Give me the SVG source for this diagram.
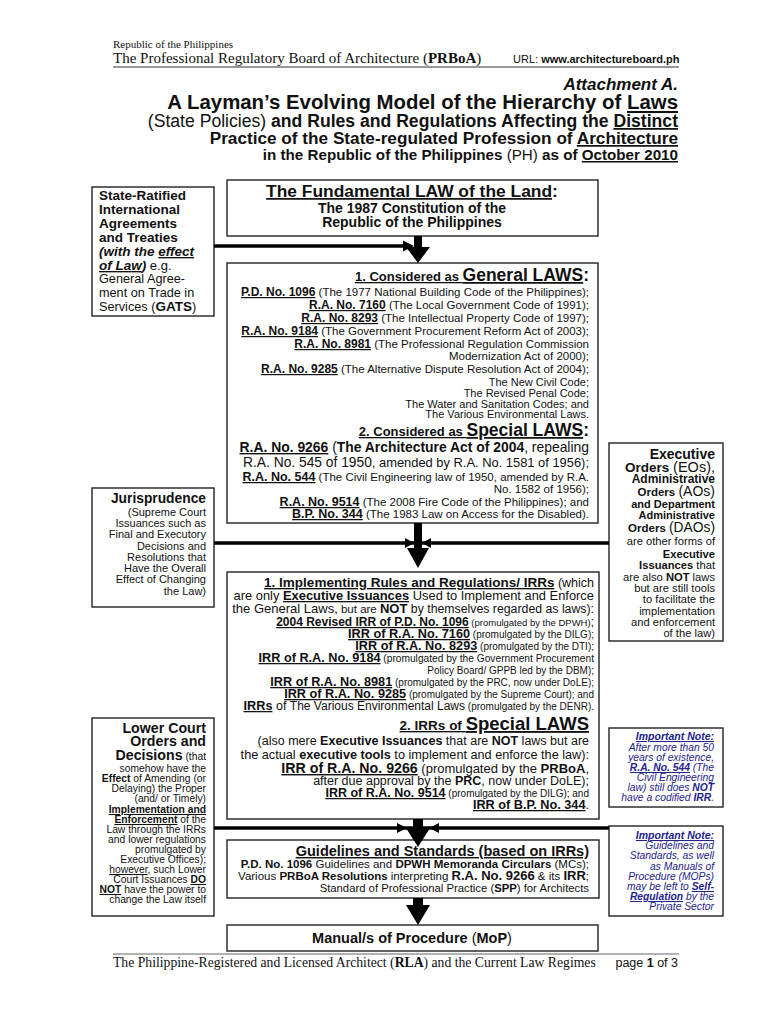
<svg xmlns="http://www.w3.org/2000/svg" width="768" height="1024" viewBox="0 0 768 1024">
<style>
text{font-family:"Liberation Sans",Arial,sans-serif;fill:#111}
.s{font-family:"Liberation Serif","Times New Roman",serif}
.b{font-weight:bold}
.n{font-weight:normal}
.i{font-style:italic}
.u{text-decoration:underline}
.e{text-anchor:end}
.m{text-anchor:middle}
.box{fill:#fff;stroke:#222;stroke-width:1.4}
.nt{fill:#23238c;font-style:italic}
.cl{stroke:#000;stroke-width:3.5}
.ah{fill:#000}
</style>
<rect width="768" height="1024" fill="#fff"/>

<g id="header">
<text class="s" x="113" y="48" font-size="11">Republic of the Philippines</text>
<text class="s" x="113" y="63" font-size="15">The Professional Regulatory Board of Architecture (<tspan class="b">PRBoA</tspan>)</text>
<text x="513" y="63" font-size="11">URL: <tspan class="b">www.architectureboard.ph</tspan></text>
<line x1="113" y1="67" x2="679" y2="67" stroke="#333" stroke-width="1"/>
<text class="b i e" x="678" y="90" font-size="17">Attachment A.</text>
<text class="b e" x="678" y="109" font-size="20.4">A Layman’s Evolving Model of the Hierarchy of <tspan class="u">Laws</tspan></text>
<text class="b e" x="678" y="127" font-size="17.6"><tspan class="n">(State Policies)</tspan> and Rules and Regulations Affecting the <tspan class="u">Distinct</tspan></text>
<text class="b e" x="678" y="144" font-size="17.2">Practice of the State-regulated Profession of <tspan class="u">Architecture</tspan></text>
<text class="b e" x="678" y="160" font-size="15.2">in the Republic of the Philippines <tspan class="n">(PH)</tspan> as of <tspan class="u">October 2010</tspan></text>
</g>

<g id="treaties">
<rect class="box" x="92" y="187" width="122" height="129"/>
<text class="b" x="99" y="200" font-size="13.5">State-Ratified</text>
<text class="b" x="99" y="214" font-size="13.5">International</text>
<text class="b" x="99" y="228" font-size="13.5">Agreements</text>
<text class="b" x="99" y="242" font-size="13.5">and Treaties</text>
<text class="b i" x="99" y="256" font-size="13.5">(with the <tspan class="u">effect</tspan></text>
<text x="99" y="270" font-size="13"><tspan class="b i u" font-size="13.5">of Law</tspan><tspan class="b i" font-size="13.5">)</tspan> e.g.</text>
<text x="99" y="283" font-size="12.7">General Agree-</text>
<text x="99" y="297" font-size="12.7">ment on Trade in</text>
<text x="99" y="311" font-size="12.7">Services (<tspan class="b" font-size="13.5">GATS</tspan>)</text>
</g>

<g id="fundamental-law">
<rect class="box" x="227" y="180" width="371" height="56"/>
<text class="b m" x="412" y="197" font-size="17.4"><tspan class="u">The Fundamental LAW of the Land</tspan>:</text>
<text class="b m" x="412" y="213" font-size="14">The 1987 Constitution of the</text>
<text class="b m" x="412" y="227" font-size="14">Republic of the Philippines</text>
</g>

<g id="general-laws">
<rect class="box" x="227" y="263" width="371" height="260"/>
<text class="b e" x="589" y="281"><tspan class="u" font-size="13">1. Considered as </tspan><tspan class="u" font-size="17.5">General LAWS</tspan><tspan font-size="17.5">:</tspan></text>
<text class="e" x="589" y="296"><tspan class="b u" font-size="12">P.D. No. 1096</tspan><tspan font-size="11.5"> (The 1977 National Building Code of the Philippines);</tspan></text>
<text class="e" x="589" y="309"><tspan class="b u" font-size="12">R.A. No. 7160</tspan><tspan font-size="11.5"> (The Local Government Code of 1991);</tspan></text>
<text class="e" x="589" y="322"><tspan class="b u" font-size="12">R.A. No. 8293</tspan><tspan font-size="11.5"> (The Intellectual Property Code of 1997);</tspan></text>
<text class="e" x="589" y="335"><tspan class="b u" font-size="12">R.A. No. 9184</tspan><tspan font-size="11.5"> (The Government Procurement Reform Act of 2003);</tspan></text>
<text class="e" x="589" y="348"><tspan class="b u" font-size="12">R.A. No. 8981</tspan><tspan font-size="11.5"> (The Professional Regulation Commission</tspan></text>
<text class="e" x="589" y="360" font-size="11.5">Modernization Act of 2000);</text>
<text class="e" x="589" y="373"><tspan class="b u" font-size="12">R.A. No. 9285</tspan><tspan font-size="11.5"> (The Alternative Dispute Resolution Act of 2004);</tspan></text>
<text class="e" x="589" y="386" font-size="11">The New Civil Code;</text>
<text class="e" x="589" y="397" font-size="11">The Revised Penal Code;</text>
<text class="e" x="589" y="408" font-size="11">The Water and Sanitation Codes; and</text>
<text class="e" x="589" y="418" font-size="11">The Various Environmental Laws.</text>
<text class="b e" x="589" y="436"><tspan class="u" font-size="13">2. Considered as </tspan><tspan class="u" font-size="17.5">Special LAWS</tspan><tspan font-size="17.5">:</tspan></text>
<text class="e" x="589" y="452" font-size="13.9"><tspan class="b u">R.A. No. 9266</tspan> (<tspan class="b">The Architecture Act of 2004</tspan>, repealing</text>
<text class="e" x="589" y="467"><tspan font-size="13.8">R.A. No. 545 of 1950</tspan><tspan font-size="12.9">, amended by R.A. No. 1581 of 1956);</tspan></text>
<text class="e" x="589" y="481"><tspan class="b u" font-size="12.5">R.A. No. 544</tspan><tspan font-size="11.5"> (The Civil Engineering law of 1950, amended by R.A.</tspan></text>
<text class="e" x="589" y="493" font-size="11.5">No. 1582 of 1956);</text>
<text class="e" x="589" y="506"><tspan class="b u" font-size="12.5">R.A. No. 9514</tspan><tspan font-size="11.5"> (The 2008 Fire Code of the Philippines); and</tspan></text>
<text class="e" x="589" y="518"><tspan class="b u" font-size="12.5">B.P. No. 344</tspan><tspan font-size="11.5"> (The 1983 Law on Access for the Disabled).</tspan></text>
</g>

<g id="jurisprudence">
<rect class="box" x="92" y="488" width="122" height="119"/>
<text class="b e" x="206" y="503" font-size="13.8">Jurisprudence</text>
<text class="e" x="206" y="516" font-size="11">(Supreme Court</text>
<text class="e" x="206" y="527" font-size="11">Issuances such as</text>
<text class="e" x="206" y="538" font-size="11">Final and Executory</text>
<text class="e" x="206" y="550" font-size="11">Decisions and</text>
<text class="e" x="206" y="561" font-size="11">Resolutions that</text>
<text class="e" x="206" y="572" font-size="11">Have the Overall</text>
<text class="e" x="206" y="583" font-size="11">Effect of Changing</text>
<text class="e" x="206" y="595" font-size="11">the Law)</text>
</g>

<g id="executive-orders">
<rect class="box" x="609" y="443" width="114" height="198"/>
<text class="b e" x="715" y="459" font-size="14">Executive</text>
<text class="e" x="715" y="472"><tspan class="b" font-size="13.5">Orders </tspan><tspan font-size="14.5">(EOs),</tspan></text>
<text class="b e" x="715" y="483" font-size="12">Administrative</text>
<text class="e" x="715" y="496"><tspan class="b" font-size="11.5">Orders </tspan><tspan font-size="14">(AOs)</tspan></text>
<text class="b e" x="715" y="508" font-size="11">and Department</text>
<text class="b e" x="715" y="519" font-size="11">Administrative</text>
<text class="e" x="715" y="532"><tspan class="b" font-size="11.5">Orders </tspan><tspan font-size="13.8">(DAOs)</tspan></text>
<text class="e" x="715" y="545" font-size="11.2">are other forms of</text>
<text class="b e" x="715" y="558" font-size="11.2">Executive</text>
<text class="e" x="715" y="569" font-size="11.2"><tspan class="b">Issuances</tspan> that</text>
<text class="e" x="715" y="581" font-size="11.2">are also <tspan class="b">NOT</tspan> laws</text>
<text class="e" x="715" y="592" font-size="11.2">but are still tools</text>
<text class="e" x="715" y="603" font-size="11.2">to facilitate the</text>
<text class="e" x="715" y="615" font-size="11.2">implementation</text>
<text class="e" x="715" y="626" font-size="11.2">and enforcement</text>
<text class="e" x="715" y="637" font-size="11.2">of the law)</text>
</g>

<g id="irr">
<rect class="box" x="227" y="572" width="372" height="247"/>
<text class="e" x="594" y="587"><tspan class="b u" font-size="13.5">1. Implementing Rules and Regulations/ IRRs</tspan><tspan font-size="12.5"> (which</tspan></text>
<text class="e" x="594" y="600" font-size="12.9">are only <tspan class="b u">Executive Issuances</tspan> Used to Implement and Enforce</text>
<text class="e" x="594" y="613"><tspan font-size="13">the General Laws,</tspan><tspan font-size="11.5"> but are </tspan><tspan class="b" font-size="13">NOT</tspan><tspan font-size="12.3"> by themselves regarded as laws):</tspan></text>
<text class="e" x="594" y="626"><tspan class="b u" font-size="12">2004 Revised IRR of P.D. No. 1096</tspan><tspan font-size="9.5"> (promulgated by the DPWH)</tspan><tspan font-size="12">;</tspan></text>
<text class="e" x="594" y="638"><tspan class="b u" font-size="12.7">IRR of R.A. No. 7160</tspan><tspan font-size="10"> (promulgated by the DILG);</tspan></text>
<text class="e" x="594" y="650"><tspan class="b u" font-size="12.7">IRR of R.A. No. 8293</tspan><tspan font-size="10"> (promulgated by the DTI);</tspan></text>
<text class="e" x="594" y="662"><tspan class="b u" font-size="12.7">IRR of R.A. No. 9184</tspan><tspan font-size="10.2"> (promulgated by the Government Procurement</tspan></text>
<text class="e" x="594" y="674" font-size="10">Policy Board/ GPPB led by the DBM);</text>
<text class="e" x="594" y="686"><tspan class="b u" font-size="12.7">IRR of R.A. No. 8981</tspan><tspan font-size="10"> (promulgated by the PRC, now under DoLE);</tspan></text>
<text class="e" x="594" y="698"><tspan class="b u" font-size="12.7">IRR of R.A. No. 9285</tspan><tspan font-size="10"> (promulgated by the Supreme Court); and</tspan></text>
<text class="e" x="594" y="710"><tspan class="b u" font-size="12.7">IRRs</tspan><tspan font-size="12.5"> of </tspan><tspan font-size="12">The Various Environmental Laws</tspan><tspan font-size="10"> (promulgated by the DENR).</tspan></text>
<text class="b e" x="589" y="730"><tspan class="u" font-size="13.5">2. IRRs of </tspan><tspan class="u" font-size="18.5">Special LAWS</tspan></text>
<text class="e" x="589" y="745" font-size="12.5">(also mere <tspan class="b">Executive Issuances</tspan> that are <tspan class="b">NOT</tspan> laws but are</text>
<text class="e" x="589" y="759" font-size="12.7">the actual <tspan class="b">executive tools</tspan> to implement and enforce the law):</text>
<text class="e" x="589" y="773"><tspan class="b u" font-size="14.2">IRR of R.A. No. 9266</tspan><tspan font-size="13"> (promulgated by the </tspan><tspan class="b" font-size="13">PRBoA</tspan><tspan font-size="13">,</tspan></text>
<text class="e" x="589" y="785" font-size="12.5">after due approval by the <tspan class="b">PRC</tspan>, now under DoLE);</text>
<text class="e" x="589" y="797"><tspan class="b u" font-size="12.5">IRR of R.A. No. 9514</tspan><tspan font-size="10"> (promulgated by the DILG); and</tspan></text>
<text class="e" x="589" y="809" font-size="12.7"><tspan class="b u">IRR of B.P. No. 344</tspan>.</text>
</g>

<g id="lower-court">
<rect class="box" x="92" y="718" width="122" height="198"/>
<text class="b e" x="206" y="733" font-size="14.2">Lower Court</text>
<text class="b e" x="206" y="746" font-size="14.2">Orders and</text>
<text class="e" x="206" y="760"><tspan class="b" font-size="14.2">Decisions</tspan><tspan font-size="10.3"> (that</tspan></text>
<text class="e" x="206" y="772" font-size="10.3">somehow have the</text>
<text class="e" x="206" y="782" font-size="10.3"><tspan class="b">Effect</tspan> of Amending (or</text>
<text class="e" x="206" y="792" font-size="10.3">Delaying) the Proper</text>
<text class="e" x="206" y="802" font-size="10.3">(and/ or Timely)</text>
<text class="b u e" x="206" y="813" font-size="10.3">Implementation and</text>
<text class="e" x="206" y="823" font-size="10.3"><tspan class="b u">Enforcement</tspan> of the</text>
<text class="e" x="206" y="833" font-size="10.3">Law through the IRRs</text>
<text class="e" x="206" y="843" font-size="10.3">and lower regulations</text>
<text class="e" x="206" y="853" font-size="10.3">promulgated by</text>
<text class="e" x="206" y="863" font-size="10.3">Executive Offices);</text>
<text class="e" x="206" y="873" font-size="10.3"><tspan class="u">however</tspan>, such Lower</text>
<text class="e" x="206" y="883" font-size="10.3">Court Issuances <tspan class="b u">DO</tspan></text>
<text class="e" x="206" y="893" font-size="10.3"><tspan class="b u">NOT</tspan> have the power to</text>
<text class="e" x="206" y="903" font-size="10.3">change the Law itself</text>
</g>

<g id="note-ra544">
<rect class="box" x="609" y="728" width="114" height="79"/>
<text class="nt b u e" x="714" y="740" font-size="10.5">Important Note:</text>
<text class="nt e" x="714" y="751" font-size="10.3">After more than 50</text>
<text class="nt e" x="714" y="761" font-size="10.3">years of existence,</text>
<text class="nt e" x="714" y="771" font-size="10.3"><tspan class="b u">R.A. No. 544</tspan> (The</text>
<text class="nt e" x="714" y="781" font-size="10.3">Civil Engineering</text>
<text class="nt e" x="714" y="791" font-size="10.3">law) still does <tspan class="b">NOT</tspan></text>
<text class="nt e" x="714" y="801" font-size="10.3">have a codified <tspan class="b">IRR</tspan>.</text>
</g>

<g id="note-self-regulation">
<rect class="box" x="609" y="826" width="114" height="90"/>
<text class="nt b u e" x="714" y="839" font-size="10.5">Important Note:</text>
<text class="nt e" x="714" y="849" font-size="10.3">Guidelines and</text>
<text class="nt e" x="714" y="859" font-size="10.3">Standards, as well</text>
<text class="nt e" x="714" y="870" font-size="10.3">as Manuals of</text>
<text class="nt e" x="714" y="880" font-size="10.3">Procedure (MOPs)</text>
<text class="nt e" x="714" y="890" font-size="10.3">may be left to <tspan class="b u">Self-</tspan></text>
<text class="nt e" x="714" y="900" font-size="10.3"><tspan class="b u">Regulation</tspan> by the</text>
<text class="nt e" x="714" y="910" font-size="10.3">Private Sector</text>
</g>

<g id="guidelines">
<rect class="box" x="227" y="840" width="372" height="58"/>
<text class="b u e" x="589" y="856" font-size="14.5">Guidelines and Standards (based on IRRs)</text>
<text class="e" x="589" y="868" font-size="11.5"><tspan class="b">P.D. No. 1096</tspan> Guidelines and <tspan class="b">DPWH Memoranda Circulars</tspan> (MCs);</text>
<text class="e" x="589" y="880" font-size="11.5">Various <tspan class="b">PRBoA Resolutions</tspan> interpreting <tspan class="b" font-size="13">R.A. No. 9266</tspan> &amp; its <tspan class="b" font-size="13">IRR</tspan>;</text>
<text class="e" x="589" y="892" font-size="11.3">Standard of Professional Practice (<tspan class="b">SPP</tspan>) for Architects</text>
</g>

<g id="manual-of-procedure">
<rect class="box" x="227" y="925" width="371" height="26"/>
<text class="b m" x="412" y="943" font-size="14.5">Manual/s of Procedure <tspan class="n">(</tspan>MoP<tspan class="n">)</tspan></text>
</g>

<g id="connectors">
<line class="cl" x1="214" y1="246" x2="406" y2="246"/>
<polygon class="ah" points="403,240.5 414,246 403,251.5"/>
<rect class="ah" x="414" y="236" width="8" height="12"/>
<polygon class="ah" points="406,247 430,247 418,263"/>

<line class="cl" x1="214" y1="543" x2="609" y2="543"/>
<rect class="ah" x="414" y="523" width="8" height="26"/>
<polygon class="ah" points="405,538 414,543 405,548"/>
<polygon class="ah" points="431,538 422,543 431,548"/>
<polygon class="ah" points="407,548 429,548 418,568"/>

<line class="cl" x1="214" y1="828" x2="609" y2="828"/>
<rect class="ah" x="413" y="819" width="10" height="10"/>
<polygon class="ah" points="397,823 407,828 397,833"/>
<polygon class="ah" points="439,823 429,828 439,833"/>
<polygon class="ah" points="406,828 430,828 418,847"/>

<rect class="ah" x="413" y="898" width="10" height="8"/>
<polygon class="ah" points="406,905 430,905 418,925"/>
</g>

<g id="footer">
<line x1="113" y1="954" x2="679" y2="954" stroke="#555" stroke-width="0.9"/>
<text class="s" x="113" y="967" font-size="13.7">The Philippine-Registered and Licensed Architect (<tspan class="b">RLA</tspan>) and the Current Law Regimes</text>
<text class="e" x="678" y="967" font-size="12.5">page <tspan class="b">1</tspan> of 3</text>
</g>
</svg>
